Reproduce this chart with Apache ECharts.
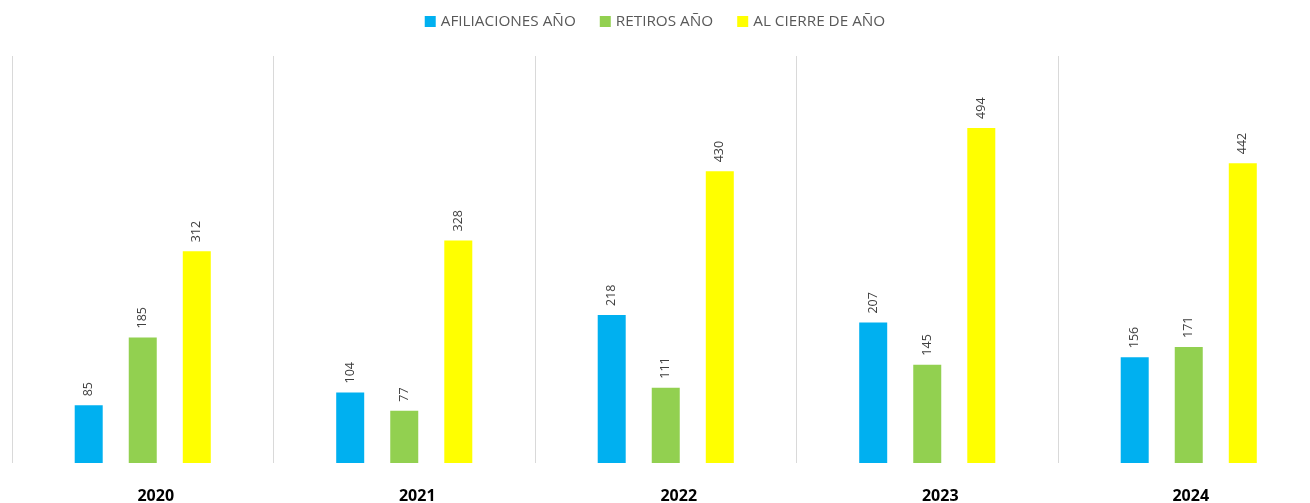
<!DOCTYPE html>
<html>
<head>
<meta charset="utf-8">
<script src="https://cdn.jsdelivr.net/npm/echarts@6/dist/echarts.min.js"></script>
<style>html,body{margin:0;padding:0;background:#fff}#c{width:1310px;height:503px}</style>
</head>
<body>
<div id="c"></div>
<script>
const categories = ['2020', '2021', '2022', '2023', '2024'];
const afiliaciones = [85, 104, 218, 207, 156];
const retiros = [185, 77, 111, 145, 171];
const cierre = [312, 328, 430, 494, 442];

const chart = echarts.init(document.getElementById('c'));
const lbl = {
  show: true, position: 'top', rotate: 90, align: 'left', verticalAlign: 'middle',
  distance: 9, fontSize: 12.5, color: '#404040', fontFamily: 'Open Sans'
};
function s(name, data, color) {
  return { name, type: 'bar', data, barWidth: 28, barGap: '93%', itemStyle: { color }, label: lbl };
}
const lastCat = categories[categories.length - 1];
chart.setOption({
  animation: false,
  legend: {
    top: 9, left: 'center', itemWidth: 11, itemHeight: 11, itemGap: 24,
    icon: 'rect',
    textStyle: { fontSize: 15.3, color: '#595959', fontFamily: 'Open Sans' }
  },
  grid: { left: 12, right: -9.5, top: 56, bottom: 40, containLabel: false, outerBoundsMode: 'none' },
  xAxis: {
    type: 'category', data: categories,
    axisLine: { show: false }, axisTick: { show: false },
    splitLine: { show: true, lineStyle: { color: '#d9d9d9', width: 1 } },
    axisLabel: {
      margin: 25,
      formatter: v => v === lastCat ? '{b|' + v + '}' : '{a|' + v + '}',
      rich: {
        a: { fontSize: 16, fontWeight: 'bold', color: '#000', fontFamily: 'Open Sans', padding: [0, 0, 0, 26] },
        b: { fontSize: 16, fontWeight: 'bold', color: '#000', fontFamily: 'Open Sans', padding: [0, 0, 0, 4] }
      }
    }
  },
  yAxis: { type: 'value', min: 0, max: 600, show: false, splitLine: { show: false } },
  series: [
    s('AFILIACIONES AÑO', afiliaciones, '#00b0f0'),
    s('RETIROS AÑO', retiros, '#92d050'),
    s('AL CIERRE DE AÑO', cierre, '#ffff00')
  ]
});
</script>
</body>
</html>
